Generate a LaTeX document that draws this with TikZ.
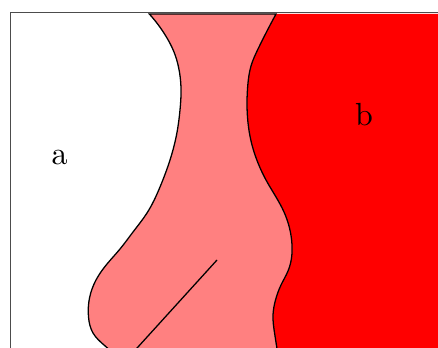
\documentclass[tikz,border=0pt]{standalone}
\usetikzlibrary{hobby}
\begin{document}
\begin{tikzpicture}[x=0.3125pt,y=-0.3125pt,
  outline/.style={draw=black,line width=0.4pt},
  label/.style={inner sep=0pt,font=\normalsize}]
\useasboundingbox (0,0) rectangle (438,347);
\clip (0,0) rectangle (438,347);
% red region (b)
\fill[red,use Hobby shortcut] (276,14) .. (267,31) .. (258,49) .. (251,66) .. (247.8,85) .. (247,105) .. (248.5,127) .. (252,145) .. (258,163) .. (266,180) .. (276,197) .. (284,212) .. (289.5,228) .. (292,245) .. (291.5,258) .. (288,271) .. (281,285) .. (275.5,300) .. (273,315) .. (274.7,334) .. (277.5,352)
  -- (470,352) -- (470,14) -- cycle;
% pink region
\path[outline,fill=red!50,use Hobby shortcut]
  (149.3,14) .. (158,24.5) .. (167,38) .. (174,52) .. (178.5,67) .. (181,88) .. (180,110) .. (176.5,135) .. (170,160) .. (160,187) .. (147,213) .. (133,232) .. (120,249) .. (107,264) .. (96,280) .. (89.5,298) .. (88.5,317) .. (93,333) .. (104,345) .. (112,352)
  -- (277.5,352) -- (277.5,352) .. (274.7,334) .. (273,315) .. (275.5,300) .. (281,285) .. (288,271) .. (291.5,258) .. (292,245) .. (289.5,228) .. (284,212) .. (276,197) .. (266,180) .. (258,163) .. (252,145) .. (248.5,127) .. (247,105) .. (247.8,85) .. (251,66) .. (258,49) .. (267,31) .. (276,14)
  -- cycle;
% interior line
\coordinate (l1) at (217,260);
\coordinate (l2) at (128,358);
\draw[outline] (l1) -- (l2);
% frame
\draw[outline,draw=black!70] (10.7,12.7) rectangle (470,370);
% labels
\node[label] (a) at (59.7,158) {a};
\node[label] (b) at (364,115) {b};
\end{tikzpicture}
\end{document}
